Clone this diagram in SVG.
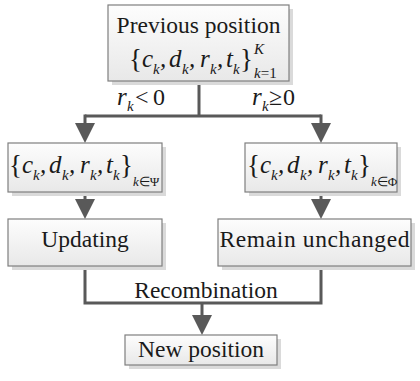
<svg xmlns="http://www.w3.org/2000/svg" width="420" height="381" viewBox="0 0 420 381">
  <style>
    .box { fill: url(#boxfill); stroke: #7f7f7f; stroke-width: 1.2; }
    .shadow { fill: #dadada; }
    .txt { font-family: "Liberation Serif", "Times New Roman", serif; font-size: 23.5px; fill: #1a1a1a; }
    .math { font-family: "Liberation Serif", "Times New Roman", serif; font-style: italic; font-size: 25px; fill: #1a1a1a; }
    .sub { font-size: 15px; }
    .ss { font-size: 13px; }
    .up { font-style: normal; }
    .br { font-style: normal; font-size: 27px; }
    .op { font-style: normal; font-size: 24px; }
    .wire { fill: none; stroke: #595959; stroke-width: 3; }
  </style>
  <defs>
    <linearGradient id="boxfill" x1="0" y1="0" x2="0" y2="1">
      <stop offset="0" stop-color="#fdfdfd"/>
      <stop offset="1" stop-color="#e8e8e8"/>
    </linearGradient>
    <marker id="head" viewBox="0 0 20 20" refX="0" refY="10" markerWidth="20" markerHeight="20" markerUnits="userSpaceOnUse" orient="auto">
      <polygon points="0,0 20,10 0,20" fill="#595959"/>
    </marker>
  </defs>

  <!-- connectors -->
  <g id="connectors">
    <path class="wire" d="M199,81 V116"/>
    <path class="wire" d="M85,116 H321"/>
    <path class="wire" d="M85,114.5 V123" marker-end="url(#head)"/>
    <path class="wire" d="M321,114.5 V123" marker-end="url(#head)"/>
    <path class="wire" d="M85,192 V199" marker-end="url(#head)"/>
    <path class="wire" d="M321,192 V199" marker-end="url(#head)"/>
    <path class="wire" d="M85,266 V303 H321 V266"/>
    <path class="wire" d="M202,303 V315" marker-end="url(#head)"/>
    <text class="txt" x="206" y="298" text-anchor="middle">Recombination</text>
    <text class="math" id="label-neg" x="117" y="105">r<tspan class="sub" x="127" y="111">k</tspan><tspan class="op" x="135" y="105">&lt;</tspan><tspan class="op" x="153" y="105">0</tspan></text>
    <text class="math" id="label-pos" x="252" y="105">r<tspan class="sub" x="262" y="111">k</tspan><tspan class="op" x="269" y="105">≥</tspan><tspan class="op" x="283" y="105">0</tspan></text>
  </g>

  <!-- previous position -->
  <g id="previous">
    <rect class="shadow" x="112" y="9" width="181" height="76"/>
    <rect class="box" x="108" y="5" width="181" height="76"/>
    <text class="txt" x="198.5" y="33" text-anchor="middle">Previous position</text>
    <text class="math" x="129" y="67"><tspan class="br" y="68">{</tspan><tspan x="142" y="67">c</tspan><tspan class="sub" x="153" y="74">k</tspan><tspan x="160" y="67">,</tspan><tspan x="169" y="67">d</tspan><tspan class="sub" x="182" y="74">k</tspan><tspan x="189" y="67">,</tspan><tspan x="200" y="67">r</tspan><tspan class="sub" x="210" y="74">k</tspan><tspan x="217" y="67">,</tspan><tspan x="226" y="67">t</tspan><tspan class="sub" x="233" y="74">k</tspan><tspan class="br" x="240" y="68">}</tspan><tspan class="sub" x="254" y="54">K</tspan><tspan class="sub" x="254" y="78">k<tspan class="up">=1</tspan></tspan></text>
  </g>

  <!-- subset with r_k < 0 -->
  <g id="subset-psi">
    <rect class="shadow" x="12" y="147" width="154" height="49"/>
    <rect class="box" x="8" y="143" width="154" height="49"/>
    <text class="math" x="9" y="173"><tspan class="br" y="174">{</tspan><tspan x="22" y="173">c</tspan><tspan class="sub" x="33" y="180">k</tspan><tspan x="40" y="173">,</tspan><tspan x="49" y="173">d</tspan><tspan class="sub" x="62" y="180">k</tspan><tspan x="69" y="173">,</tspan><tspan x="80" y="173">r</tspan><tspan class="sub" x="90" y="180">k</tspan><tspan x="97" y="173">,</tspan><tspan x="106" y="173">t</tspan><tspan class="sub" x="113" y="180">k</tspan><tspan class="br" x="120" y="174">}</tspan><tspan class="ss" x="133" y="186">k<tspan class="up">∈Ψ</tspan></tspan></text>
  </g>

  <!-- subset with r_k >= 0 -->
  <g id="subset-phi">
    <rect class="shadow" x="249" y="147" width="152" height="49"/>
    <rect class="box" x="245" y="143" width="152" height="49"/>
    <text class="math" x="247" y="173"><tspan class="br" y="174">{</tspan><tspan x="260" y="173">c</tspan><tspan class="sub" x="271" y="180">k</tspan><tspan x="278" y="173">,</tspan><tspan x="287" y="173">d</tspan><tspan class="sub" x="300" y="180">k</tspan><tspan x="307" y="173">,</tspan><tspan x="318" y="173">r</tspan><tspan class="sub" x="328" y="180">k</tspan><tspan x="335" y="173">,</tspan><tspan x="344" y="173">t</tspan><tspan class="sub" x="351" y="180">k</tspan><tspan class="br" x="358" y="174">}</tspan><tspan class="ss" x="371" y="186">k<tspan class="up">∈Φ</tspan></tspan></text>
  </g>

  <!-- updating -->
  <g id="updating">
    <rect class="shadow" x="12" y="223" width="154" height="47"/>
    <rect class="box" x="8" y="219" width="154" height="47"/>
    <text class="txt" x="85" y="247" text-anchor="middle">Updating</text>
  </g>

  <!-- remain unchanged -->
  <g id="unchanged">
    <rect class="shadow" x="222" y="223" width="193" height="47"/>
    <rect class="box" x="218" y="219" width="193" height="47"/>
    <text class="txt" x="314.5" y="247" text-anchor="middle" textLength="190">Remain unchanged</text>
  </g>

  <!-- new position -->
  <g id="new-position">
    <rect class="shadow" x="129" y="339" width="152" height="30"/>
    <rect class="box" x="125" y="335" width="152" height="30"/>
    <text class="txt" x="201" y="357" text-anchor="middle">New position</text>
  </g>
</svg>
